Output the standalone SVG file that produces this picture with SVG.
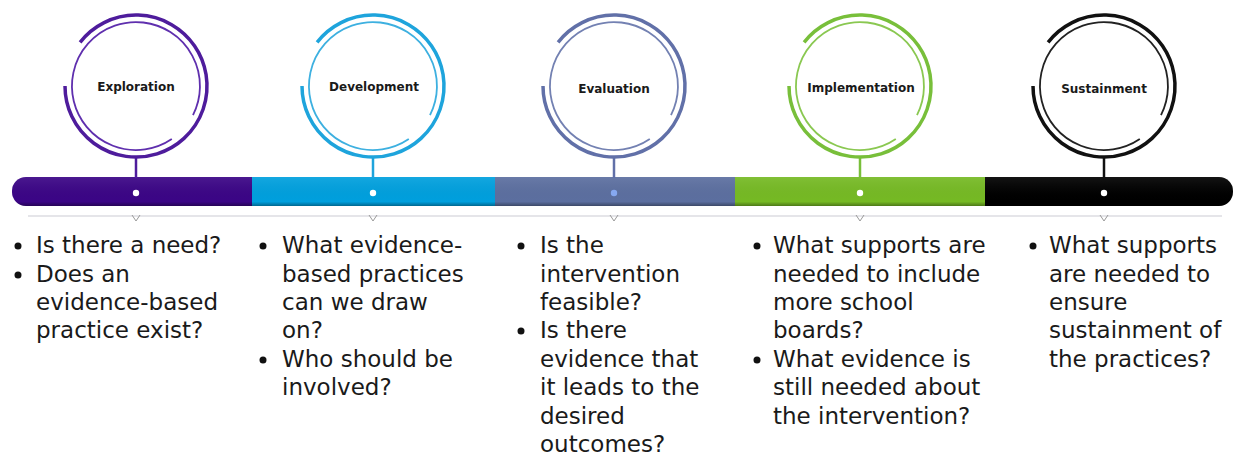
<svg xmlns="http://www.w3.org/2000/svg" xmlns:xlink="http://www.w3.org/1999/xlink" width="1235" height="460" viewBox="0 0 1235 460">
<style>
.lbl{font-family:"DejaVu Sans","Liberation Sans",sans-serif;font-weight:bold;font-size:12px;fill:#1a1a1a;text-anchor:middle}
.txt{font-family:"DejaVu Sans","Liberation Sans",sans-serif;font-size:23px;fill:#1a1a1a}
.out{fill:none;stroke-width:3.5}
.in{fill:none;stroke-width:1.8}
.stem{stroke-width:2.5}
.dot{fill:#ffffff}
.bul{fill:#111}
.chev{fill:none;stroke:#9a9a9a;stroke-width:1}
</style>
<defs>
<path id="outer" d="M-55.9,-43.7 A71 71 0 1 1 -71,0"/>
<path id="inner" d="M35.8,53.1 A64 64 0 1 1 57,29.1"/>
<clipPath id="barclip"><rect x="12" y="177" width="1221" height="29" rx="14" ry="14"/></clipPath>
<linearGradient id="shade" x1="0" y1="0" x2="0" y2="1">
<stop offset="0" stop-color="#ffffff" stop-opacity="0.08"/>
<stop offset="0.85" stop-color="#000000" stop-opacity="0"/>
<stop offset="1" stop-color="#000000" stop-opacity="0.35"/>
</linearGradient>
</defs>
<rect width="1235" height="460" fill="#ffffff"/>

<g id="bar" clip-path="url(#barclip)">
<rect x="12" y="177" width="240" height="29" fill="#3b0586"/>
<rect x="252" y="177" width="243" height="29" fill="#00a0de"/>
<rect x="495" y="177" width="240" height="29" fill="#5c6fa0"/>
<rect x="735" y="177" width="250" height="29" fill="#76ba24"/>
<rect x="985" y="177" width="248" height="29" fill="#000000"/>
<rect x="12" y="177" width="1221" height="29" fill="url(#shade)"/>
</g>
<line x1="28" y1="216" x2="1222" y2="216" stroke="#dcdce2" stroke-width="1.5"/>

<g id="connectors">
<line class="stem" x1="136" y1="157" x2="136" y2="178" stroke="#4e1c9c"/>
<line class="stem" x1="373" y1="157" x2="373" y2="178" stroke="#1ea4dc"/>
<line class="stem" x1="614" y1="157" x2="614" y2="178" stroke="#6170a8"/>
<line class="stem" x1="860" y1="157" x2="860" y2="178" stroke="#78bf3a"/>
<line class="stem" x1="1104" y1="157" x2="1104" y2="178" stroke="#111111"/>
</g>

<g id="exploration">
<g transform="translate(136,86)">
<use xlink:href="#outer" class="out" stroke="#4e1c9c"/>
<use xlink:href="#inner" class="in" stroke="#5f2fae"/>
</g>
<text class="lbl" x="136" y="90.5">Exploration</text>
<circle class="dot" cx="136" cy="193" r="3.2"/>
<polyline class="chev" points="132,215 136,221 140,215"/>
<circle class="bul" cx="18" cy="246" r="3.5"/>
<circle class="bul" cx="18" cy="275" r="3.5"/>
<text class="txt"><tspan x="36" y="253">Is there a need?</tspan><tspan x="36" y="282">Does an</tspan><tspan x="36" y="310">evidence-based</tspan><tspan x="36" y="338">practice exist?</tspan></text>
</g>

<g id="development">
<g transform="translate(373,86)">
<use xlink:href="#outer" class="out" stroke="#1ea4dc"/>
<use xlink:href="#inner" class="in" stroke="#3db0e0"/>
</g>
<text class="lbl" x="374" y="90.5">Development</text>
<circle class="dot" cx="373" cy="193" r="3.2"/>
<polyline class="chev" points="369,215 373,221 377,215"/>
<circle class="bul" cx="263" cy="246" r="3.5"/>
<circle class="bul" cx="263" cy="360" r="3.5"/>
<text class="txt"><tspan x="282" y="253">What evidence-</tspan><tspan x="282" y="282">based practices</tspan><tspan x="282" y="310">can we draw</tspan><tspan x="282" y="338">on?</tspan><tspan x="282" y="367">Who should be</tspan><tspan x="282" y="395">involved?</tspan></text>
</g>

<g id="evaluation">
<g transform="translate(614,86)">
<use xlink:href="#outer" class="out" stroke="#6170a8"/>
<use xlink:href="#inner" class="in" stroke="#7381b2"/>
</g>
<text class="lbl" x="614" y="92.5">Evaluation</text>
<circle cx="614" cy="193" r="3.2" fill="#86a8f0"/>
<polyline class="chev" points="610,215 614,221 618,215"/>
<circle class="bul" cx="521" cy="246" r="3.5"/>
<circle class="bul" cx="521" cy="331" r="3.5"/>
<text class="txt"><tspan x="540" y="253">Is the</tspan><tspan x="540" y="282">intervention</tspan><tspan x="540" y="310">feasible?</tspan><tspan x="540" y="338">Is there</tspan><tspan x="540" y="367">evidence that</tspan><tspan x="540" y="395">it leads to the</tspan><tspan x="540" y="424">desired</tspan><tspan x="540" y="452">outcomes?</tspan></text>
</g>

<g id="implementation">
<g transform="translate(860,86)">
<use xlink:href="#outer" class="out" stroke="#78bf3a"/>
<use xlink:href="#inner" class="in" stroke="#8ac851"/>
</g>
<text class="lbl" x="861" y="91.5">Implementation</text>
<circle class="dot" cx="860" cy="193" r="3.2"/>
<polyline class="chev" points="856,215 860,221 864,215"/>
<circle class="bul" cx="757" cy="246" r="3.5"/>
<circle class="bul" cx="757" cy="360" r="3.5"/>
<text class="txt"><tspan x="773" y="253">What supports are</tspan><tspan x="773" y="282">needed to include</tspan><tspan x="773" y="310">more school</tspan><tspan x="773" y="338">boards?</tspan><tspan x="773" y="367">What evidence is</tspan><tspan x="773" y="395">still needed about</tspan><tspan x="773" y="424">the intervention?</tspan></text>
</g>

<g id="sustainment">
<g transform="translate(1104,86)">
<use xlink:href="#outer" class="out" stroke="#111111"/>
<use xlink:href="#inner" class="in" stroke="#222222"/>
</g>
<text class="lbl" x="1104" y="92.5">Sustainment</text>
<circle class="dot" cx="1104" cy="193" r="3.2"/>
<polyline class="chev" points="1100,215 1104,221 1108,215"/>
<circle class="bul" cx="1033" cy="246" r="3.5"/>
<text class="txt"><tspan x="1049" y="253">What supports</tspan><tspan x="1049" y="282">are needed to</tspan><tspan x="1049" y="310">ensure</tspan><tspan x="1049" y="338">sustainment of</tspan><tspan x="1049" y="367">the practices?</tspan></text>
</g>
</svg>
